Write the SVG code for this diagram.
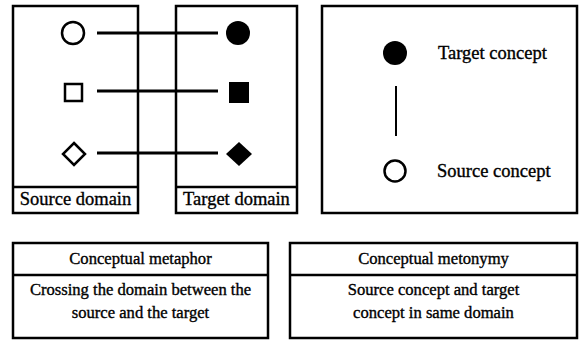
<svg xmlns="http://www.w3.org/2000/svg" width="579" height="341" viewBox="0 0 579 341">
<style>
.box{fill:none;stroke:#000;stroke-width:2.5}
.open{fill:#fff;stroke:#000;stroke-width:2.5}
.fill{fill:#000;stroke:none}
.link{stroke:#000;stroke-width:3;fill:none}
text{fill:#000;stroke:#000;stroke-width:0.35;font-family:'Liberation Serif','Times New Roman','DejaVu Serif',serif}
.lbl{font-size:18.5px}
.txt{font-size:16.6px;text-anchor:middle}
</style>
<rect width="579" height="341" fill="#fff"/>
<g id="source-domain">
<rect class="box" x="13" y="6" width="125" height="207"/>
<line class="box" x1="13" y1="187" x2="138" y2="187"/>
<text class="lbl" x="75.5" y="205" text-anchor="middle">Source domain</text>
</g>
<g id="target-domain">
<rect class="box" x="176" y="6" width="121" height="207"/>
<line class="box" x1="176" y1="187" x2="297" y2="187"/>
<text class="lbl" x="236.5" y="205" text-anchor="middle">Target domain</text>
</g>
<g id="connectors">
<line class="link" x1="97" y1="33" x2="218" y2="33"/>
<line class="link" x1="97" y1="91" x2="218" y2="91"/>
<line class="link" x1="97" y1="153" x2="218" y2="153"/>
<line class="link" x1="396" y1="86" x2="396" y2="136" style="stroke-width:2"/>
</g>
<g id="source-circle"><circle class="open" cx="73" cy="33" r="11"/></g>
<g id="source-square"><rect class="open" x="65" y="84" width="17" height="17"/></g>
<g id="source-diamond"><polygon class="open" points="74,143 85,154 74,165 63,154"/></g>
<g id="target-circle"><circle class="fill" cx="238" cy="33" r="12"/></g>
<g id="target-square"><rect class="fill" x="229" y="82" width="20" height="21"/></g>
<g id="target-diamond"><polygon class="fill" points="239,142 252,154 239,166 226,154"/></g>
<g id="metonymy-panel">
<rect class="box" x="322" y="6" width="255" height="207"/>
</g>
<g id="target-concept">
<circle class="fill" cx="395" cy="53" r="12"/>
<text class="lbl" x="438" y="59">Target concept</text>
</g>
<g id="source-concept">
<circle class="open" cx="395" cy="171" r="10.5"/>
<text class="lbl" x="437" y="177">Source concept</text>
</g>
<g id="metaphor-def">
<rect class="box" x="13" y="243" width="255" height="95"/>
<line class="box" x1="13" y1="275" x2="268" y2="275"/>
<text class="txt" x="140.5" y="264">Conceptual metaphor</text>
<text class="txt" x="140.5" y="295">Crossing the domain between the</text>
<text class="txt" x="140.5" y="318">source and the target</text>
</g>
<g id="metonymy-def">
<rect class="box" x="290" y="243" width="287" height="95"/>
<line class="box" x1="290" y1="275" x2="577" y2="275"/>
<text class="txt" x="433.5" y="264">Conceptual metonymy</text>
<text class="txt" x="433.5" y="295">Source concept and target</text>
<text class="txt" x="433.5" y="318">concept in same domain</text>
</g>
</svg>
